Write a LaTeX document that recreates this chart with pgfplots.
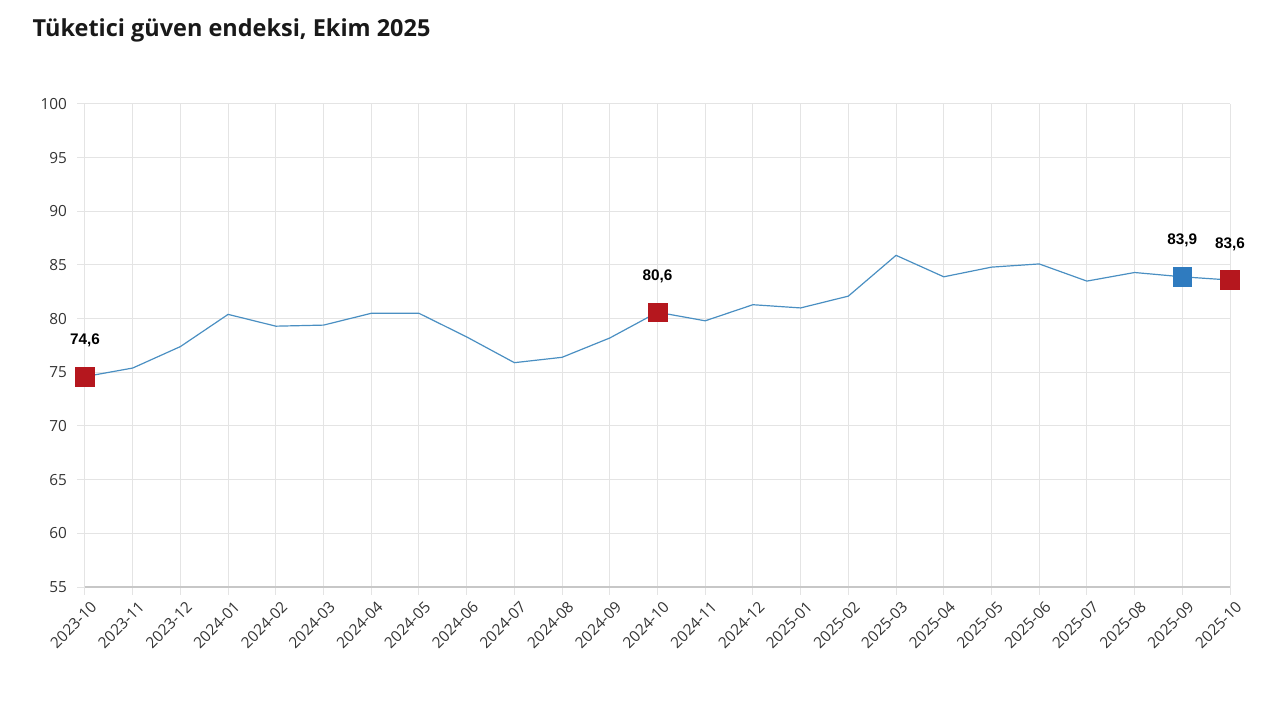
\documentclass[border=0pt]{standalone}
\usepackage{pgfplots}
\pgfplotsset{compat=1.18}
\usepackage{fontspec}
\setmainfont{Open Sans}
\newfontfamily\lblfont{Liberation Sans}
\definecolor{lineblue}{HTML}{4A8FC2}
\definecolor{mkred}{HTML}{B5171E}
\definecolor{mkblue}{HTML}{2F7BBF}
\definecolor{gridc}{HTML}{E4E4E4}
\definecolor{txt}{HTML}{333333}
\begin{document}
\begin{tikzpicture}[x=0.75pt,y=0.75pt]
% page = 1280 x 706 px, axis origin at pixel (85,587)
\path[use as bounding box] (-85,-119) rectangle (1195,587);
\begin{axis}[
    at={(0pt,0pt)}, anchor=south west,
    scale only axis,
    width=858.75pt, height=362.25pt,
    xmin=0, xmax=24, ymin=55, ymax=100,
    xtick={0,...,24},
    xticklabels={2023-10,2023-11,2023-12,2024-01,2024-02,2024-03,2024-04,2024-05,2024-06,2024-07,2024-08,2024-09,2024-10,2024-11,2024-12,2025-01,2025-02,2025-03,2025-04,2025-05,2025-06,2025-07,2025-08,2025-09,2025-10},
    ytick={55,60,...,100},
    grid=major,
    major grid style={gridc, line width=0.75pt},
    axis line style={draw=none},
    tick align=outside,
    major tick length=6pt,
    tick style={gridc, line width=0.75pt},
    xtick pos=bottom, ytick pos=left,
    x tick label style={rotate=45, anchor=north east, font=\fontsize{11.5}{13}\selectfont, text=txt, xshift=3pt, yshift=-2pt},
    y tick label style={font=\fontsize{11.5}{13}\selectfont, text=txt, xshift=-4pt},
    /pgf/number format/assume math mode=true,
    clip=false,
]
\draw[black!22, line width=1pt] (rel axis cs:0,0) -- (rel axis cs:1,0);
\addplot[lineblue, line width=0.9pt, mark=none] coordinates {
    (0,74.6) (1,75.4) (2,77.4) (3,80.4) (4,79.3) (5,79.4) (6,80.5) (7,80.5)
    (8,78.3) (9,75.9) (10,76.4) (11,78.2) (12,80.6) (13,79.8) (14,81.3)
    (15,81.0) (16,82.1) (17,85.9) (18,83.9) (19,84.8) (20,85.1) (21,83.5)
    (22,84.3) (23,83.9) (24,83.6)
};
\addplot[only marks, mark=square*, mark size=7pt, mark options={fill=mkred, draw=mkred, line width=0.3pt},
    point meta=explicit symbolic, nodes near coords,
    every node near coord/.style={anchor=center, yshift=27pt, font=\lblfont\bfseries\fontsize{11.5}{13}\selectfont, text=black}]
    coordinates {(0,74.6) [74,6] (12,80.6) [80,6] (24,83.6) [83,6]};
\addplot[only marks, mark=square*, mark size=7pt, mark options={fill=mkblue, draw=mkblue, line width=0.3pt},
    point meta=explicit symbolic, nodes near coords,
    every node near coord/.style={anchor=center, yshift=27pt, font=\lblfont\bfseries\fontsize{11.5}{13}\selectfont, text=black}]
    coordinates {(23,83.9) [83,9]};
\end{axis}
\node[anchor=west, font=\bfseries\fontsize{17.6}{21}\selectfont, text=black!90] at (-57,557) {Tüketici güven endeksi, Ekim 2025};
\end{tikzpicture}
\end{document}
